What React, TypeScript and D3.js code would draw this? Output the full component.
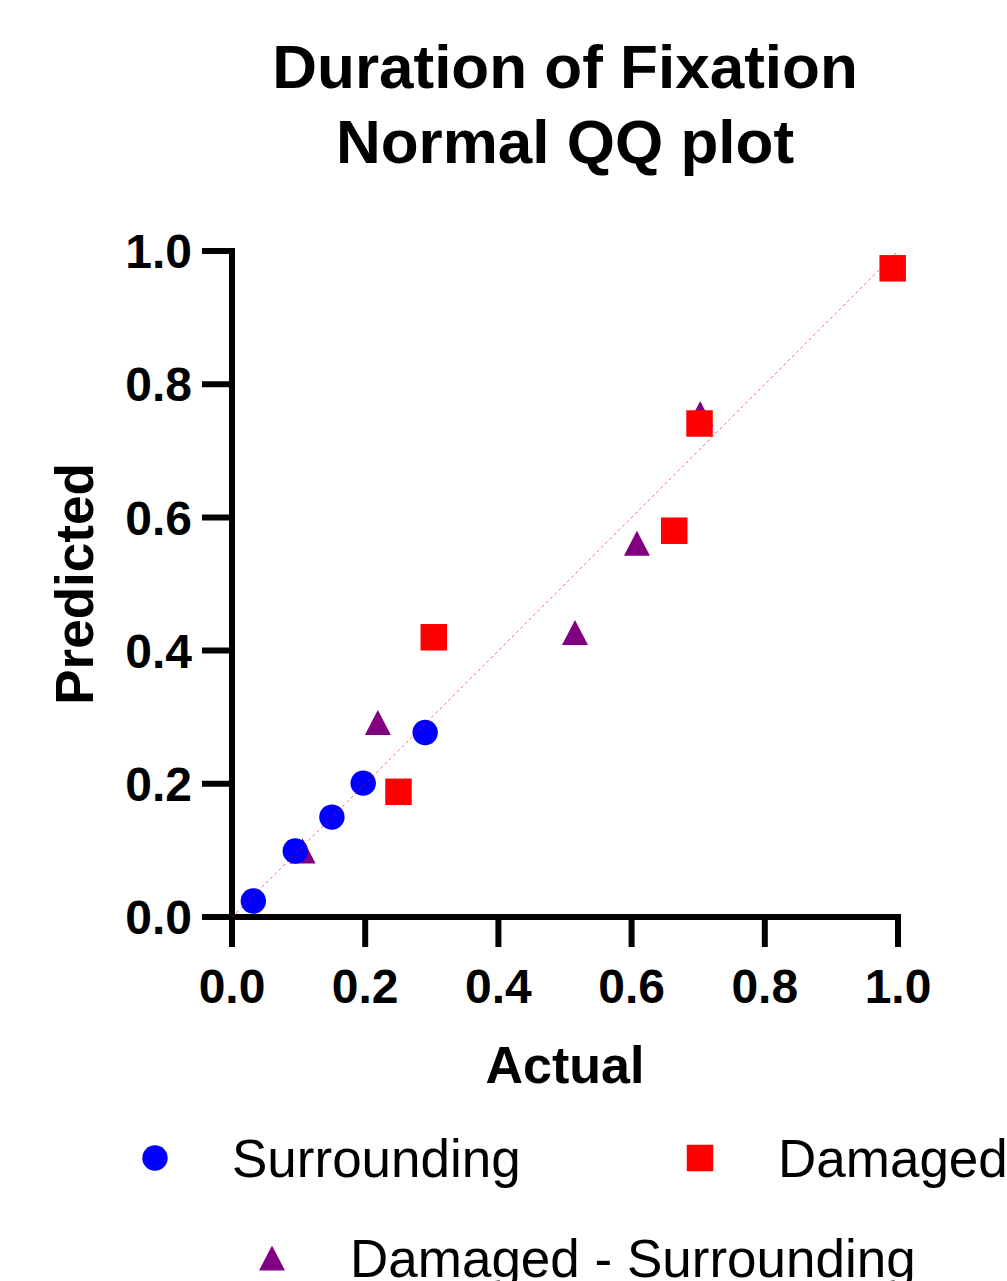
import React from "react";
import * as d3 from "d3";

const surroundingActual = [0.032, 0.095, 0.15, 0.197, 0.29];
const surroundingPredicted = [0.024, 0.099, 0.15, 0.201, 0.277];
const damagedActual = [0.25, 0.303, 0.664, 0.702, 0.992];
const damagedPredicted = [0.188, 0.42, 0.58, 0.741, 0.974];
const diffActual = [0.106, 0.219, 0.515, 0.608, 0.703];
const diffPredicted = [0.099, 0.292, 0.427, 0.561, 0.756];
const ticks = [0, 0.2, 0.4, 0.6, 0.8, 1.0];

const FONT = "'Liberation Sans', Arial, Helvetica, sans-serif";

const App: React.FC = () => {
  const width = 1007;
  const height = 1281;
  const x = d3.scaleLinear().domain([0, 1]).range([232, 898]);
  const y = d3.scaleLinear().domain([0, 1]).range([917, 251]);

  const circle = d3.symbol(d3.symbolCircle, Math.PI * 12.7 * 12.7)()!;
  const square = d3.symbol(d3.symbolSquare, 26.5 * 26.5)()!;
  // GraphPad-style triangle (slightly taller than equilateral)
  const triangle = "M0,-12.5L13,12.5L-13,12.5Z";

  const tickLen = 27;
  const axisW = 6;

  return (
    <svg
      width={width}
      height={height}
      style={{ position: "absolute", left: 0, top: 0, background: "#fff" }}
      fontFamily={FONT}
    >
      {/* Title */}
      <text x={565} y={88} textAnchor="middle" fontSize={62} fontWeight="bold">
        Duration of Fixation
      </text>
      <text x={565} y={163} textAnchor="middle" fontSize={62} fontWeight="bold">
        Normal QQ plot
      </text>

      {/* Axes */}
      <g stroke="#000" strokeWidth={axisW} strokeLinecap="square">
        <line x1={x(0)} y1={y(1)} x2={x(0)} y2={y(0) + tickLen} />
        <line x1={x(0) - tickLen} y1={y(0)} x2={x(1)} y2={y(0)} />
        {ticks.map((t) => (
          <line key={"yt" + t} x1={x(0) - tickLen} y1={y(t)} x2={x(0)} y2={y(t)} />
        ))}
        {ticks.map((t) => (
          <line key={"xt" + t} x1={x(t)} y1={y(0)} x2={x(t)} y2={y(0) + tickLen} />
        ))}
      </g>

      {/* Tick labels */}
      {ticks.map((t) => (
        <text
          key={"yl" + t}
          x={192}
          y={y(t)}
          dy="0.36em"
          textAnchor="end"
          fontSize={48}
          fontWeight="bold"
        >
          {t.toFixed(1)}
        </text>
      ))}
      {ticks.map((t) => (
        <text
          key={"xl" + t}
          x={x(t)}
          y={1003}
          textAnchor="middle"
          fontSize={48}
          fontWeight="bold"
        >
          {t.toFixed(1)}
        </text>
      ))}

      {/* Axis titles */}
      <text x={565} y={1083} textAnchor="middle" fontSize={52} fontWeight="bold">
        Actual
      </text>
      <text
        transform={`translate(93, 584) rotate(-90)`}
        textAnchor="middle"
        fontSize={53}
        fontWeight="bold"
      >
        Predicted
      </text>

      {/* Points */}
      {diffActual.map((a, i) => (
        <path
          key={"t" + i}
          d={triangle}
          transform={`translate(${x(a)},${y(diffPredicted[i])})`}
          fill="#800080"
        />
      ))}
      {damagedActual.map((a, i) => (
        <path
          key={"s" + i}
          d={square}
          transform={`translate(${x(a)},${y(damagedPredicted[i])})`}
          fill="#ff0000"
        />
      ))}
      {surroundingActual.map((a, i) => (
        <path
          key={"c" + i}
          d={circle}
          transform={`translate(${x(a)},${y(surroundingPredicted[i])})`}
          fill="#0000ff"
        />
      ))}

      {/* Identity line */}
      <line
        x1={x(0)}
        y1={y(0)}
        x2={x(1)}
        y2={y(1)}
        stroke="#ff0000"
        strokeOpacity={0.6}
        strokeWidth={1}
        strokeDasharray="3,3"
      />

      {/* Legend */}
      <path d={circle} transform="translate(155,1158)" fill="#0000ff" />
      <text x={232} y={1177} fontSize={53}>
        Surrounding
      </text>
      <path d={square} transform="translate(700,1158)" fill="#ff0000" />
      <text x={778} y={1177} fontSize={53}>
        Damaged
      </text>
      <path d={triangle} transform="translate(272,1258)" fill="#800080" />
      <text x={350} y={1277} fontSize={53}>
        Damaged - Surrounding
      </text>
    </svg>
  );
};

export default App;
